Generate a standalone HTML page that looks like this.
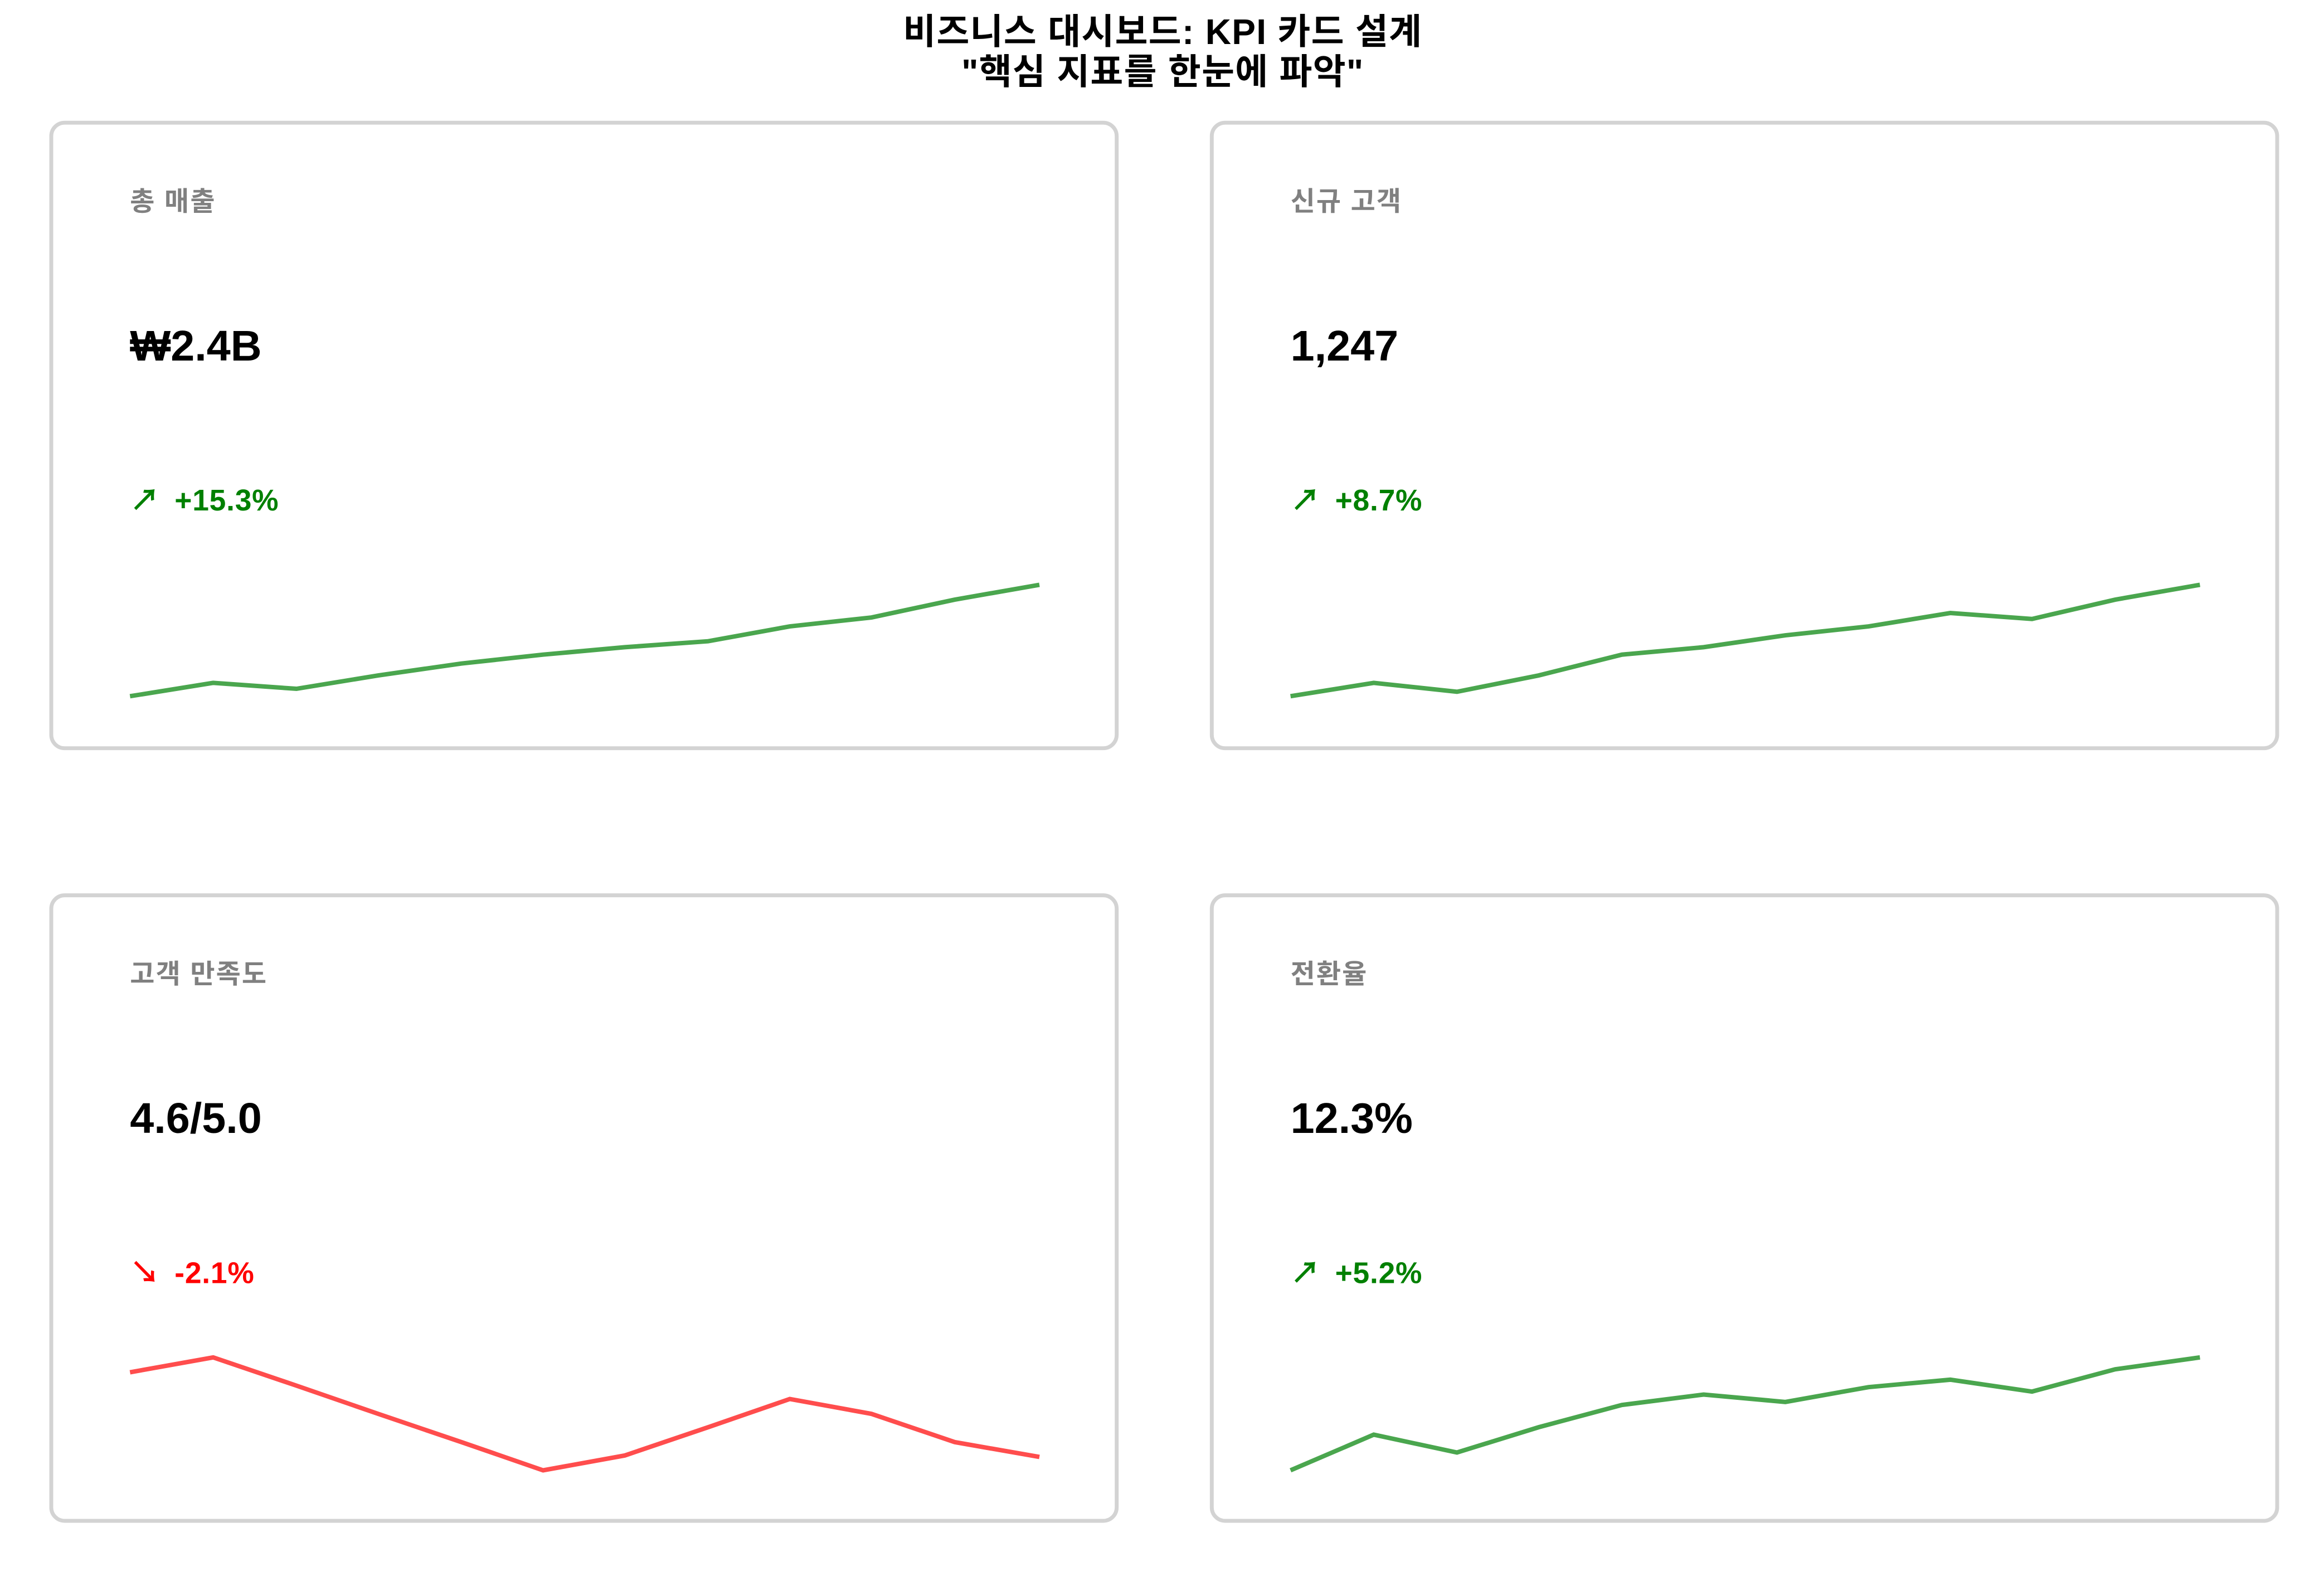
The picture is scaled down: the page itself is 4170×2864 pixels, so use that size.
<!DOCTYPE html>
<html><head><meta charset="utf-8"><style>
html,body{margin:0;padding:0;background:#fff}
svg{display:block}
text{font-family:"Liberation Sans","Noto Sans CJK KR",sans-serif;font-weight:bold}
</style></head><body>
<svg width="4170" height="2864" viewBox="0 0 1564 1074" xmlns="http://www.w3.org/2000/svg">
<rect width="1564" height="1074" fill="#fff"/>
<g transform="translate(-0.5,-0.5)">
<text x="783" y="30" font-size="24" text-anchor="middle" fill="#000" letter-spacing="0.5">비즈니스 대시보드: KPI 카드 설계</text>
<text x="783" y="57" font-size="24" text-anchor="middle" fill="#000" letter-spacing="0.5">"핵심 지표를 한눈에 파악"</text>
<g fill="none" stroke="#d3d3d3" stroke-width="2.6">
<rect x="35" y="83" width="717" height="421" rx="9"/>
<rect x="816" y="83" width="717" height="421" rx="9"/>
<rect x="35" y="603" width="717" height="421" rx="9"/>
<rect x="816" y="603" width="717" height="421" rx="9"/>
</g>
<g font-size="18" fill="#808080" letter-spacing="0.8">
<text x="88" y="142">총 매출</text>
<text x="869" y="142">신규 고객</text>
<text x="88" y="662">고객 만족도</text>
<text x="869" y="662">전환율</text>
</g>
<g font-size="29" fill="#000">
<text x="88" y="243">₩2.4B</text>
<text x="869" y="243">1,247</text>
<text x="88" y="763">4.6/5.0</text>
<text x="869" y="763">12.3%</text>
</g>
<g font-size="20" letter-spacing="0.3">
<text x="88" y="344" fill="#008000">↗ <tspan x="118">+15.3%</tspan></text>
<text x="869" y="344" fill="#008000">↗ <tspan x="899">+8.7%</tspan></text>
<text x="88" y="864" fill="#ff0000">↘ <tspan x="118">-2.1%</tspan></text>
<text x="869" y="864" fill="#008000">↗ <tspan x="899">+5.2%</tspan></text>
</g>
<g fill="none" stroke-width="3" stroke-linejoin="miter">
<polyline stroke="#4aa64e" points="88,469 144,460 200,464 255,455 311,447 366,441 421,436 477,432 532,422 587,416 643,404 700,394"/>
<polyline stroke="#4aa64e" points="869,469 925,460 981,466 1036,455 1092,441 1147,436 1202,428 1258,422 1313,413 1368,417 1424,404 1481,394"/>
<polyline stroke="#ff4d4d" points="88,924 144,914 200,933 255,952 311,971 366,990 421,980 477,961 532,942 587,952 643,971 700,981"/>
<polyline stroke="#4aa64e" points="869,990 925,966 981,978 1036,961 1092,946 1147,939 1202,944 1258,934 1313,929 1368,937 1424,922 1481,914"/>
</g>
</g>
</svg>
</body></html>
